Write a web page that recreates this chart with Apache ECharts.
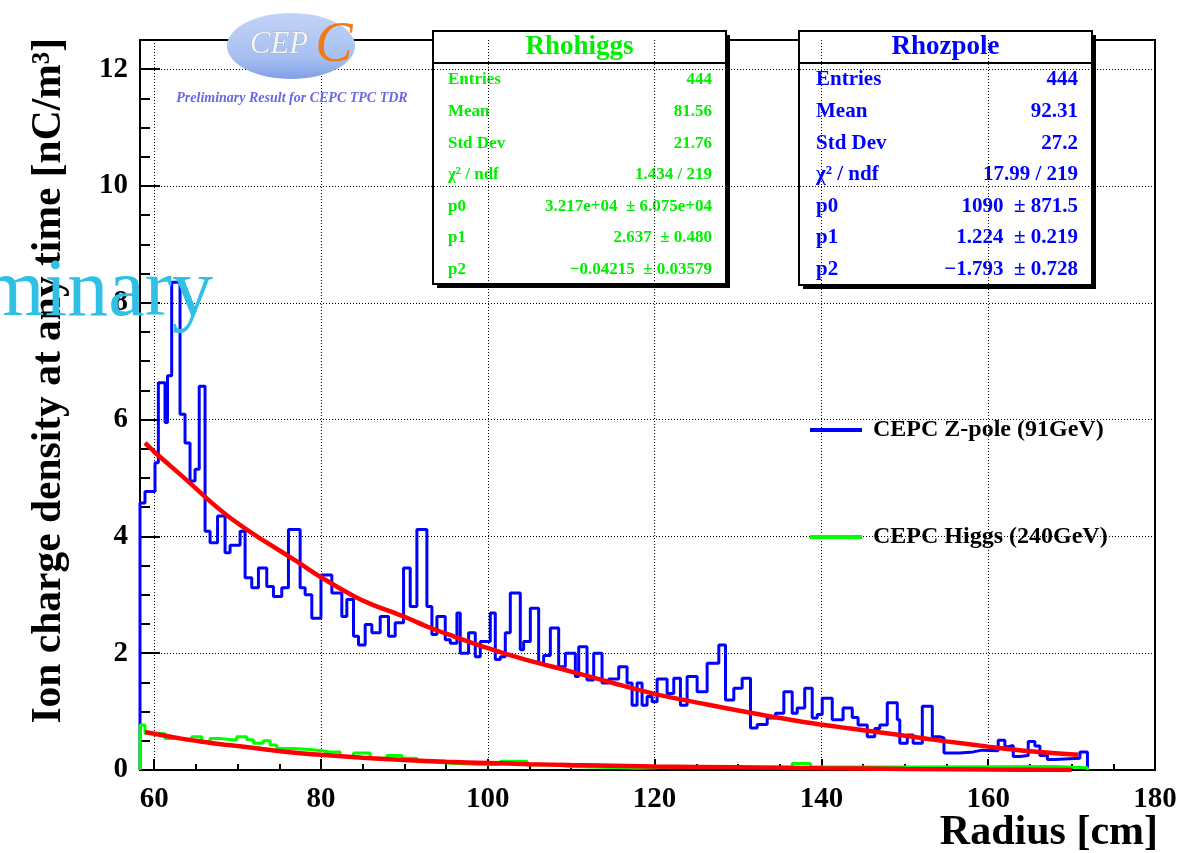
<!DOCTYPE html>
<html><head><meta charset="utf-8">
<script src="https://cdn.jsdelivr.net/npm/echarts@6/dist/echarts.min.js"></script>
<style>html,body{margin:0;padding:0;background:#fff}#c{width:1201px;height:853px}</style>
</head><body><div id="c"></div>
<script>
// ---------- data ----------
const zpoleEdges = [58.3, 58.9, 60.1, 60.5, 61.3, 61.6, 62.1, 63.1, 63.7, 64.3,
  64.9, 65.4, 66.1, 66.7, 67.6, 68.5, 69.1, 70.3, 70.9, 71.7,
  72.5, 73.5, 74.3, 75.3, 76.1, 77.5, 78.1, 78.9, 80.0, 81.3,
  82.5, 83.1, 83.9, 84.5, 85.3, 86.1, 87.1, 88.1, 88.9, 89.9,
  90.7, 91.5, 92.7, 93.3, 93.9, 94.9, 95.5, 96.3, 96.7, 97.7,
  98.5, 99.1, 100.3, 100.9, 101.5, 102.1, 102.7, 103.9, 104.3, 105.1,
  106.1, 106.7, 107.5, 108.5, 109.3, 110.5, 110.9, 111.9, 112.7, 113.7,
  114.5, 115.7, 116.7, 117.3, 117.9, 118.5, 119.1, 119.7, 120.3, 121.5,
  122.3, 123.1, 123.9, 125.1, 126.3, 127.7, 128.5, 129.5, 130.5, 131.5,
  132.3, 133.5, 134.5, 135.5, 136.5, 137.1, 138.0, 138.9, 139.5, 140.1,
  141.3, 142.6, 143.7, 144.4, 145.5, 146.4, 147.0, 147.9, 149.1, 149.4,
  150.3, 151.0, 152.1, 153.3, 154.2, 154.7, 156.6, 158.2, 159.3, 161.2,
  162.0, 162.4, 163.0, 163.8, 164.8, 165.6, 166.2, 167.1, 168.0, 171.0,
  171.9];
const zpoleValues = [4.57, 4.77, 5.26, 6.63, 5.95, 6.75, 8.35, 6.09, 5.6, 4.95,
  5.15, 6.57, 4.09, 3.89, 4.35, 3.72, 3.85, 4.09, 3.29, 3.12,
  3.46, 3.14, 2.97, 3.12, 4.12, 3.12, 3.0, 2.6, 3.34, 3.03,
  2.63, 2.92, 2.29, 2.14, 2.49, 2.35, 2.63, 2.29, 2.52, 3.46,
  2.8, 4.12, 2.8, 2.32, 2.63, 2.23, 2.17, 2.69, 2.0, 2.35,
  1.94, 2.2, 2.69, 1.89, 1.94, 2.35, 3.03, 2.06, 2.2, 2.77,
  1.83, 1.96, 2.43, 1.77, 2.0, 1.6, 2.11, 1.54, 2.0, 1.49,
  1.56, 1.77, 1.49, 1.11, 1.49, 1.11, 1.26, 1.17, 1.56, 1.31,
  1.57, 1.11, 1.6, 1.34, 1.83, 2.14, 1.2, 1.4, 1.57, 0.72,
  0.78, 0.89, 0.97, 1.34, 0.97, 1.06, 1.4, 0.89, 0.95, 1.23,
  0.86, 1.06, 0.9, 0.77, 0.57, 0.71, 0.77, 1.15, 0.86, 0.46,
  0.6, 0.46, 1.09, 0.57, 0.55, 0.29, 0.31, 0.34, 0.33, 0.51,
  0.4, 0.42, 0.23, 0.25, 0.49, 0.41, 0.25, 0.18, 0.2, 0.31];

const higgsEdges = [58.3, 58.9, 60.3, 61.3, 63.7, 64.5, 65.7, 66.7, 67.9, 69.9,
  71.1, 71.9, 73.1, 73.9, 74.7, 76.7, 78.7, 80.1, 81.1, 82.3,
  83.9, 85.9, 87.9, 89.7, 91.5, 93.1, 95.9, 99.9, 101.5, 104.7,
  107.9, 109.9, 116, 118, 126, 131, 136.5, 138.7, 150, 168, 171.9];
const higgsValues = [0.77, 0.63, 0.62, 0.54, 0.51, 0.57, 0.49, 0.54, 0.51, 0.57,
  0.52, 0.46, 0.5, 0.43, 0.37, 0.35, 0.33, 0.31, 0.31, 0.23,
  0.29, 0.2, 0.25, 0.2, 0.14, 0.11, 0.09, 0.1, 0.15, 0.09,
  0.06, 0.04, 0.03, 0.06, 0.04, 0.05, 0.11, 0.05, 0.06, 0.04];

const fitZpole = [[58.9, 5.6], [60, 5.45], [62, 5.2], [64, 4.95], [66.7, 4.6], [69.1, 4.32],
  [72, 4.03], [74, 3.85], [77, 3.58], [80, 3.3], [83.9, 2.98], [86, 2.84], [89.9, 2.63],
  [93, 2.44], [95.9, 2.29], [99.9, 2.09], [104.5, 1.89], [109.9, 1.69], [115, 1.49],
  [120.1, 1.3], [126, 1.13], [131.5, 0.98], [137.5, 0.83], [143, 0.72], [149.4, 0.6],
  [155, 0.49], [160, 0.4], [165, 0.32], [170.8, 0.26]];
const fitHiggs = [[58.9, 0.65], [60, 0.62], [62, 0.57], [64, 0.52], [66, 0.48], [68, 0.44],
  [70, 0.41], [73, 0.36], [76, 0.31], [80, 0.26], [85, 0.21], [90, 0.17], [95, 0.14],
  [100, 0.12], [105, 0.1], [110, 0.085], [120, 0.06], [130, 0.045], [140, 0.03],
  [150, 0.018], [160, 0.008], [170, 0.0]];

const xMajorTicks = [60, 80, 100, 120, 140, 160, 180];
const xMinorTicks = [60, 65, 70, 75, 80, 85, 90, 95, 100, 105, 110, 115, 120, 125, 130,
  135, 140, 145, 150, 155, 160, 165, 170, 175, 180];
const yMajorTicks = [0, 2, 4, 6, 8, 10, 12];
const yMinorTicks = [0, 0.5, 1, 1.5, 2, 2.5, 3, 3.5, 4, 4.5, 5, 5.5, 6, 6.5, 7, 7.5, 8,
  8.5, 9, 9.5, 10, 10.5, 11, 11.5, 12, 12.5];

const seriesNames = ['CEPC Z-pole (91GeV)', 'CEPC Higgs (240GeV)'];
const statLabels = ['Entries', 'Mean', 'Std Dev', 'χ² / ndf', 'p0', 'p1', 'p2'];
const higgsStats = ['444', '81.56', '21.76', '1.434 / 219', '3.217e+04  ± 6.075e+04',
  '2.637  ± 0.480', '−0.04215  ± 0.03579'];
const zpoleStats = ['444', '92.31', '27.2', '17.99 / 219', '1090  ± 871.5',
  '1.224  ± 0.219', '−1.793  ± 0.728'];

// ---------- helpers ----------
const SERIF = '"Liberation Serif", "DejaVu Serif", serif';
function histData(edges, values) {
  const d = [[edges[0], 0]];
  for (let i = 0; i < values.length; i++) d.push([edges[i + 1], values[i]]);
  d.push([edges[edges.length - 1], 0]);
  return d;
}
function statsBox(x, y, w, h, title, color, fs, values, padL) {
  const ch = [
    { type: 'rect', shape: { x: x + 4, y: y + 4, width: w, height: h }, style: { fill: '#000' } },
    { type: 'rect', shape: { x: x, y: y, width: w, height: h }, style: { fill: '#fff', stroke: '#000', lineWidth: 2 } },
    { type: 'line', shape: { x1: x, y1: y + 32, x2: x + w, y2: y + 32 }, style: { stroke: '#000', lineWidth: 2 } },
    { type: 'text', x: x + w / 2, y: y + 16, style: { text: title, font: 'bold 27px ' + SERIF, fill: color, align: 'center', verticalAlign: 'middle' } }
  ];
  for (let i = 0; i < statLabels.length; i++) {
    const yy = y + 49 + i * 31.6;
    ch.push({ type: 'text', x: x + padL, y: yy, style: { text: statLabels[i], font: 'bold ' + fs + 'px ' + SERIF, fill: color, align: 'left', verticalAlign: 'middle' } });
    ch.push({ type: 'text', x: x + w - 14, y: yy, style: { text: values[i], font: 'bold ' + fs + 'px ' + SERIF, fill: color, align: 'right', verticalAlign: 'middle' } });
  }
  return { type: 'group', z: 100, children: ch };
}

const chart = echarts.init(document.getElementById('c'), null, { renderer: 'canvas' });
const axisFont = { fontFamily: SERIF, fontWeight: 'bold', fontSize: 29, color: '#000' };
const dotted = { color: '#000', width: 1, type: [1, 2] };

chart.setOption({
  animation: false,
  backgroundColor: '#fff',
  grid: { left: 140, right: 46, top: 40, bottom: 83, show: true, borderColor: '#000', borderWidth: 2, backgroundColor: 'transparent' },
  xAxis: [
    { type: 'value', min: 58.3, max: 180, position: 'bottom',
      axisLine: { show: false, onZero: false },
      axisTick: { customValues: xMajorTicks, inside: true, length: 11, lineStyle: { color: '#000', width: 2 } },
      axisLabel: Object.assign({ customValues: xMajorTicks, margin: 15 }, axisFont),
      splitLine: { show: true, lineStyle: dotted } },
    { type: 'value', min: 58.3, max: 180, position: 'bottom',
      axisLine: { show: false, onZero: false },
      axisTick: { customValues: xMinorTicks, inside: true, length: 6, lineStyle: { color: '#000', width: 2 } },
      axisLabel: { show: false }, splitLine: { show: false } }
  ],
  yAxis: [
    { type: 'value', min: 0, max: 12.5, position: 'left',
      axisLine: { show: false, onZero: false },
      axisTick: { customValues: yMajorTicks, inside: true, length: 20, lineStyle: { color: '#000', width: 2 } },
      axisLabel: Object.assign({ customValues: yMajorTicks, margin: 12 }, axisFont),
      splitLine: { show: true, lineStyle: dotted } },
    { type: 'value', min: 0, max: 12.5, position: 'left',
      axisLine: { show: false, onZero: false },
      axisTick: { customValues: yMinorTicks, inside: true, length: 10, lineStyle: { color: '#000', width: 2 } },
      axisLabel: { show: false }, splitLine: { show: false } }
  ],
  legend: {
    data: seriesNames, orient: 'vertical', left: 805, top: 413, itemWidth: 52, itemHeight: 4,
    itemGap: 83, icon: 'rect', selectedMode: false,
    textStyle: { fontFamily: SERIF, fontWeight: 'bold', fontSize: 24, color: '#000', lineHeight: 24, padding: [0, 0, 0, 6] }
  },
  series: [
    { name: seriesNames[0], type: 'line', step: 'start', data: histData(zpoleEdges, zpoleValues),
      showSymbol: false, symbol: 'none', color: '#0000ff', lineStyle: { color: '#0000ff', width: 3 }, z: 3 },
    { name: seriesNames[1], type: 'line', step: 'start', data: histData(higgsEdges, higgsValues),
      showSymbol: false, symbol: 'none', color: '#00ff00', lineStyle: { color: '#00ff00', width: 3 }, z: 4 },
    { name: 'fit Z-pole', type: 'line', data: fitZpole, smooth: 0.3, symbol: 'none',
      lineStyle: { color: '#ff0000', width: 4.5 }, z: 5 },
    { name: 'fit Higgs', type: 'line', data: fitHiggs, smooth: 0.3, symbol: 'none',
      lineStyle: { color: '#ff0000', width: 4.5 }, z: 5 }
  ],
  graphic: [
    // watermark
    { type: 'text', x: 213, y: 293, z: 50, style: { text: 'Preliminary', font: '82px ' + SERIF, fill: '#2fc0e6', align: 'right', verticalAlign: 'middle' } },
    // logo
    { type: 'ellipse', z: 60, shape: { cx: 291, cy: 46, rx: 64, ry: 33 },
      style: { fill: new echarts.graphic.LinearGradient(0, 0, 0, 1, [
        { offset: 0, color: '#c2d3f6' }, { offset: 0.7, color: '#a6bff1' }, { offset: 1, color: '#7f9fe6' }]) } },
    { type: 'text', x: 279, y: 45, z: 61, style: { text: 'CEP', font: 'italic 31px ' + SERIF, fill: '#f4f4f4', stroke: '#8a9ab8', lineWidth: 0.6, align: 'center', verticalAlign: 'middle' } },
    { type: 'text', x: 334, y: 46, z: 61, style: { text: 'C', font: 'italic 56px ' + SERIF, fill: '#f07a14', align: 'center', verticalAlign: 'middle' } },
    { type: 'text', x: 292, y: 98, z: 61, style: { text: 'Preliminary Result for CEPC TPC TDR', font: 'italic bold 14px ' + SERIF, fill: '#6a66e6', align: 'center', verticalAlign: 'middle' } },
    // axis titles
    { type: 'text', x: 49, y: 38, rotation: Math.PI / 2, z: 40, style: { text: 'Ion charge density at any time [nC/m³]', font: 'bold 41.5px ' + SERIF, fill: '#000', align: 'right', verticalAlign: 'middle' } },
    { type: 'text', x: 1158, y: 833, z: 40, style: { text: 'Radius [cm]', font: 'bold 42px ' + SERIF, fill: '#000', align: 'right', verticalAlign: 'middle' } },
    // stats boxes
    statsBox(433, 31, 293, 253, 'Rhohiggs', '#00ee00', 17, higgsStats, 15),
    statsBox(799, 31, 293, 254, 'Rhozpole', '#0000ff', 21, zpoleStats, 17)
  ]
});
</script>
</body></html>
